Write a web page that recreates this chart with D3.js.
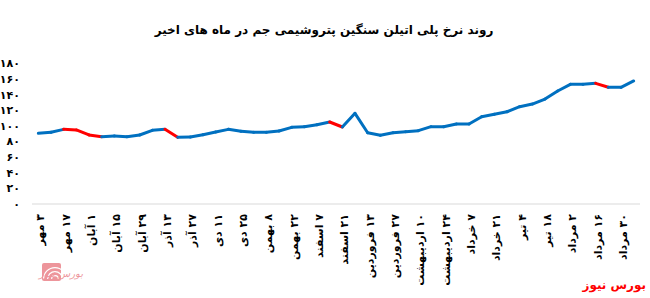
<!DOCTYPE html>
<html>
<head>
<meta charset="utf-8">
<script src="https://cdn.jsdelivr.net/npm/d3@7"></script>
<style>
  body { margin: 0; background: #fff; }
  svg { display: block; font-family: "DejaVu Sans", sans-serif; }
</style>
</head>
<body>
<div id="plot"></div>
<script>
// weekly prices (48 weeks), one x label every two weeks
var prices = [90.4, 91.7, 95.5, 94.7, 88.3, 86.1, 87.0, 86.1, 88.3, 94.3, 95.5, 85.3,
              85.8, 88.7, 92.1, 95.5, 93.0, 91.7, 91.7, 93.4, 98.1, 98.9, 101.5, 104.9,
              98.5, 116.0, 91.2, 87.9, 91.2, 92.5, 93.8, 98.9, 98.9, 102.3, 102.3, 111.7,
              114.7, 118.0, 124.5, 127.9, 134.3, 144.6, 153.1, 153.1, 154.4, 149.3, 149.3, 157.4];
// segments drawn in red (segment i goes from point i to point i+1)
var redSegments = [2, 3, 4, 10, 23, 44];
var dateLabels = ["۳ مهر", "۱۷ مهر", "۱ آبان", "۱۵ آبان", "۲۹ آبان", "۱۳ آذر", "۲۷ آذر", "۱۱ دی",
                  "۲۵ دی", "۸ بهمن", "۲۲ بهمن", "۷ اسفند", "۲۱ اسفند", "۱۳ فروردین", "۲۷ فروردین",
                  "۱۰ اردیبهشت", "۲۴ اردیبهشت", "۷ خرداد", "۲۱ خرداد", "۴ تیر", "۱۸ تیر",
                  "۲ مرداد", "۱۶ مرداد", "۳۰ مرداد"];
var yTicks = [0, 20, 40, 60, 80, 100, 120, 140, 160, 180];
var title = "روند نرخ پلی اتیلن سنگین پتروشیمی جم در ماه های اخیر";

var width = 650, height = 298;

function fa(n) {
    return String(n).replace(/[0-9]/g, function(c) { return "۰۱۲۳۴۵۶۷۸۹"[+c]; });
}

var svg = d3.select("#plot").append("svg")
    .attr("width", width)
    .attr("height", height);

var x = d3.scalePoint()
    .domain(d3.range(prices.length))
    .range([32, 640])
    .padding(0.5);

var y = d3.scaleLinear()
    .domain([0, 180])
    .range([204, 63.3]);

// title
svg.append("text")
    .attr("x", 324)
    .attr("y", 34)
    .attr("text-anchor", "middle")
    .attr("direction", "rtl")
    .style("font-size", "12px")
    .style("font-weight", "bold")
    .style("fill", "#000")
    .text(title);

// y axis labels
svg.selectAll(".ylab")
    .data(yTicks)
    .enter().append("text")
    .attr("class", "ylab")
    .attr("x", 20)
    .attr("y", function(d) { return y(d) + 4; })
    .attr("text-anchor", "end")
    .style("font-size", "11px")
    .style("font-weight", "bold")
    .text(function(d) { return fa(d); });

// baseline
svg.append("line")
    .attr("x1", 32).attr("x2", 640)
    .attr("y1", y(0)).attr("y2", y(0))
    .style("stroke", "#d9d9d9")
    .style("stroke-width", 1);

// x labels, rotated -90, start of the rtl text at the top
svg.selectAll(".xlab")
    .data(dateLabels)
    .enter().append("text")
    .attr("class", "xlab")
    .attr("transform", function(d, i) { return "translate(" + (x(i * 2) + 6) + ",214) rotate(-90)"; })
    .attr("text-anchor", "start")
    .attr("direction", "rtl")
    .style("font-size", "11px")
    .style("font-weight", "bold")
    .text(function(d) { return d; });

// line segments
var segs = d3.range(prices.length - 1);
svg.selectAll(".seg")
    .data(segs)
    .enter().append("line")
    .attr("class", "seg")
    .attr("x1", function(i) { return x(i); })
    .attr("y1", function(i) { return y(prices[i]); })
    .attr("x2", function(i) { return x(i + 1); })
    .attr("y2", function(i) { return y(prices[i + 1]); })
    .style("stroke", function(i) { return redSegments.indexOf(i) >= 0 ? "#ff0000" : "#0070c0"; })
    .style("stroke-width", 3)
    .style("stroke-linecap", "round");

// faded logo bottom left
var logo = svg.append("g").attr("opacity", 0.55);
logo.append("rect")
    .attr("x", 42).attr("y", 263)
    .attr("width", 19).attr("height", 18)
    .attr("rx", 2)
    .style("fill", "#e0404a");
[4, 8, 12].forEach(function(r) {
    logo.append("path")
        .attr("d", d3.arc()({innerRadius: r - 1.2, outerRadius: r, startAngle: -Math.PI / 2, endAngle: Math.PI / 2}))
        .attr("transform", "translate(55,279)")
        .style("fill", "#fff");
});
logo.append("text")
    .attr("x", 39).attr("y", 277)
    .attr("text-anchor", "end")
    .attr("direction", "rtl")
    .style("font-size", "10px")
    .style("font-style", "italic")
    .style("fill", "#e0404a")
    .text("بورس نیوز");

// source bottom right
svg.append("text")
    .attr("x", 646).attr("y", 289)
    .attr("text-anchor", "start")
    .attr("direction", "rtl")
    .style("font-size", "12px")
    .style("font-weight", "bold")
    .style("fill", "#ff0000")
    .text("بورس نیوز");
</script>
</body>
</html>
